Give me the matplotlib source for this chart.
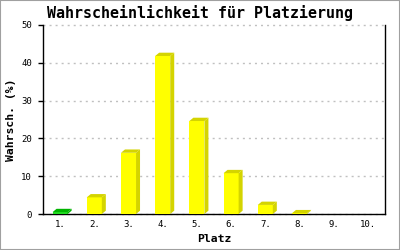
import matplotlib
matplotlib.use("Agg")
import matplotlib.pyplot as plt
from matplotlib.patches import Polygon, Rectangle

# Data
places = [1, 2, 3, 4, 5, 6, 7, 8, 9, 10]
place_labels = ["1.", "2.", "3.", "4.", "5.", "6.", "7.", "8.", "9.", "10."]
probs = [0.5, 4.4, 16.2, 41.8, 24.6, 10.8, 2.4, 0.2, 0.0, 0.0]
y_ticks = [0, 10, 20, 30, 40, 50]

front_colors = ["#22dd22"] + ["#ffff00"] * 9
side_colors = ["#00b400"] + ["#d4d400"] * 9

plt.rcParams["font.family"] = "DejaVu Sans Mono"

fig = plt.figure(figsize=(4, 2.5), dpi=100)
ax = fig.add_axes([43 / 400, 36 / 250, 342 / 400, 189 / 250])
ax.set_xlim(0.5, 10.5)
ax.set_ylim(0, 50)

# 3D depth of the bars: 4 px right, 3.3 px up, in data units
inv = ax.transData.inverted()
x0, y0 = inv.transform((0, 0))
x1, y1 = inv.transform((4, 3.3))
dx, dy = x1 - x0, y1 - y0

bars = ax.bar(places, probs, width=0.44, color=front_colors, zorder=3)
for b, c in zip(bars, side_colors):
    l = b.get_x()
    r = l + b.get_width()
    h = b.get_height()
    if h <= 0:
        continue
    ax.add_patch(Polygon([(r, 0), (r, h), (r + dx, h + dy), (r + dx, dy)],
                         facecolor=c, lw=0, zorder=3))
    ax.add_patch(Polygon([(l, h), (l + dx, h + dy), (r + dx, h + dy), (r, h)],
                         facecolor=c, lw=0, zorder=3))

# grid and axes
ax.set_axisbelow(True)
ax.yaxis.grid(True, color="#c0c0c0", linestyle=(0, (1.45, 2.9)), linewidth=1)
for gl in ax.get_ygridlines():
    gl.set_clip_on(False)
ax.spines["top"].set_visible(False)
for s in ["left", "bottom", "right"]:
    ax.spines[s].set_linewidth(1)
    ax.spines[s].set_color("black")

ax.set_xticks(places)
ax.set_xticklabels(place_labels)
ax.set_yticks(y_ticks)
ax.tick_params(axis="y", length=3.6, width=1, pad=4.5, labelsize=6.5)
ax.tick_params(axis="x", length=0, pad=4, labelsize=6.5)

fig.text(0.5, 1 - 13 / 250, "Wahrscheinlichkeit für Platzierung",
         ha="center", va="center", fontsize=10.8, fontweight="bold")
fig.text(11 / 400, 1 - 120 / 250, "Wahrsch. (%)", rotation=90,
         ha="center", va="center", fontsize=8.2, fontweight="bold")
fig.text(214 / 400, 1 - 239.5 / 250, "Platz",
         ha="center", va="center", fontsize=8.2, fontweight="bold")

# grey frame round the picture
fig.patches.append(Rectangle((0, 0), 1, 1, transform=fig.transFigure,
                             fill=False, edgecolor="#a0a0a0", lw=1.5))

fig.savefig("out.png", dpi=100)
